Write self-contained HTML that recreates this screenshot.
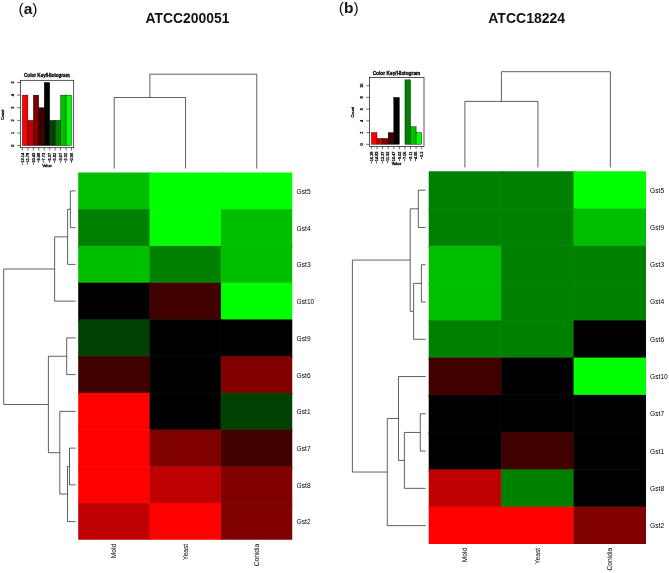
<!DOCTYPE html>
<html lang="en"><head><meta charset="utf-8"><title>Heatmaps</title>
<style>html,body{margin:0;padding:0;background:#fff}svg{display:block}</style></head>
<body>
<svg width="669" height="573" viewBox="0 0 669 573">
<rect width="669" height="573" fill="#ffffff"/>
<text x="18.5" y="14.1" font-size="15.5" font-family="Liberation Sans, Arial, Helvetica, sans-serif" fill="#111">(<tspan font-weight="bold">a</tspan>)</text>
<text x="338.8" y="12.9" font-size="15.5" font-family="Liberation Sans, Arial, Helvetica, sans-serif" fill="#111">(<tspan font-weight="bold">b</tspan>)</text>
<text x="187.5" y="23.3" text-anchor="middle" font-size="13.9" font-weight="bold" font-family="Liberation Sans, Arial, Helvetica, sans-serif" fill="#111">ATCC200051</text>
<text x="526.7" y="23.45" text-anchor="middle" font-size="14.0" font-weight="bold" font-family="Liberation Sans, Arial, Helvetica, sans-serif" fill="#111">ATCC18224</text>
<clipPath id="ca"><rect x="78.20" y="172.45" width="214.05" height="367.40"/></clipPath>
<g clip-path="url(#ca)">
<rect x="76.20" y="170.45" width="75.35" height="40.74" fill="#00bf00"/>
<rect x="149.55" y="170.45" width="73.35" height="40.74" fill="#00ff00"/>
<rect x="220.90" y="170.45" width="73.35" height="40.74" fill="#00ff00"/>
<rect x="76.20" y="209.19" width="75.35" height="38.74" fill="#008000"/>
<rect x="149.55" y="209.19" width="73.35" height="38.74" fill="#00ff00"/>
<rect x="220.90" y="209.19" width="73.35" height="38.74" fill="#00bf00"/>
<rect x="76.20" y="245.93" width="75.35" height="38.74" fill="#00bf00"/>
<rect x="149.55" y="245.93" width="73.35" height="38.74" fill="#008000"/>
<rect x="220.90" y="245.93" width="73.35" height="38.74" fill="#00bf00"/>
<rect x="76.20" y="282.67" width="75.35" height="38.74" fill="#000000"/>
<rect x="149.55" y="282.67" width="73.35" height="38.74" fill="#400000"/>
<rect x="220.90" y="282.67" width="73.35" height="38.74" fill="#00ff00"/>
<rect x="76.20" y="319.41" width="75.35" height="38.74" fill="#004000"/>
<rect x="149.55" y="319.41" width="73.35" height="38.74" fill="#000000"/>
<rect x="220.90" y="319.41" width="73.35" height="38.74" fill="#000000"/>
<rect x="76.20" y="356.15" width="75.35" height="38.74" fill="#400000"/>
<rect x="149.55" y="356.15" width="73.35" height="38.74" fill="#000000"/>
<rect x="220.90" y="356.15" width="73.35" height="38.74" fill="#800000"/>
<rect x="76.20" y="392.89" width="75.35" height="38.74" fill="#ff0000"/>
<rect x="149.55" y="392.89" width="73.35" height="38.74" fill="#000000"/>
<rect x="220.90" y="392.89" width="73.35" height="38.74" fill="#004000"/>
<rect x="76.20" y="429.63" width="75.35" height="38.74" fill="#ff0000"/>
<rect x="149.55" y="429.63" width="73.35" height="38.74" fill="#800000"/>
<rect x="220.90" y="429.63" width="73.35" height="38.74" fill="#400000"/>
<rect x="76.20" y="466.37" width="75.35" height="38.74" fill="#ff0000"/>
<rect x="149.55" y="466.37" width="73.35" height="38.74" fill="#bf0000"/>
<rect x="220.90" y="466.37" width="73.35" height="38.74" fill="#800000"/>
<rect x="76.20" y="503.11" width="75.35" height="38.74" fill="#bf0000"/>
<rect x="149.55" y="503.11" width="73.35" height="38.74" fill="#ff0000"/>
<rect x="220.90" y="503.11" width="73.35" height="38.74" fill="#800000"/>
<line x1="149.55" y1="172.45" x2="149.55" y2="539.85" stroke="#fff" stroke-opacity="0.06" stroke-width="0.8"/>
<line x1="220.90" y1="172.45" x2="220.90" y2="539.85" stroke="#fff" stroke-opacity="0.06" stroke-width="0.8"/>
<line x1="78.20" y1="209.19" x2="292.25" y2="209.19" stroke="#fff" stroke-opacity="0.06" stroke-width="0.8"/>
<line x1="78.20" y1="245.93" x2="292.25" y2="245.93" stroke="#fff" stroke-opacity="0.06" stroke-width="0.8"/>
<line x1="78.20" y1="282.67" x2="292.25" y2="282.67" stroke="#fff" stroke-opacity="0.06" stroke-width="0.8"/>
<line x1="78.20" y1="319.41" x2="292.25" y2="319.41" stroke="#fff" stroke-opacity="0.06" stroke-width="0.8"/>
<line x1="78.20" y1="356.15" x2="292.25" y2="356.15" stroke="#fff" stroke-opacity="0.06" stroke-width="0.8"/>
<line x1="78.20" y1="392.89" x2="292.25" y2="392.89" stroke="#fff" stroke-opacity="0.06" stroke-width="0.8"/>
<line x1="78.20" y1="429.63" x2="292.25" y2="429.63" stroke="#fff" stroke-opacity="0.06" stroke-width="0.8"/>
<line x1="78.20" y1="466.37" x2="292.25" y2="466.37" stroke="#fff" stroke-opacity="0.06" stroke-width="0.8"/>
<line x1="78.20" y1="503.11" x2="292.25" y2="503.11" stroke="#fff" stroke-opacity="0.06" stroke-width="0.8"/>
</g>
<text x="296.60" y="193.81" font-size="6.65" font-family="Liberation Sans, Arial, Helvetica, sans-serif" fill="#000">Gst5</text>
<text x="296.60" y="230.55" font-size="6.65" font-family="Liberation Sans, Arial, Helvetica, sans-serif" fill="#000">Gst4</text>
<text x="296.60" y="267.29" font-size="6.65" font-family="Liberation Sans, Arial, Helvetica, sans-serif" fill="#000">Gst3</text>
<text x="296.60" y="304.03" font-size="6.65" font-family="Liberation Sans, Arial, Helvetica, sans-serif" fill="#000">Gst10</text>
<text x="296.60" y="340.77" font-size="6.65" font-family="Liberation Sans, Arial, Helvetica, sans-serif" fill="#000">Gst9</text>
<text x="296.60" y="377.51" font-size="6.65" font-family="Liberation Sans, Arial, Helvetica, sans-serif" fill="#000">Gst6</text>
<text x="296.60" y="414.25" font-size="6.65" font-family="Liberation Sans, Arial, Helvetica, sans-serif" fill="#000">Gst1</text>
<text x="296.60" y="450.99" font-size="6.65" font-family="Liberation Sans, Arial, Helvetica, sans-serif" fill="#000">Gst7</text>
<text x="296.60" y="487.73" font-size="6.65" font-family="Liberation Sans, Arial, Helvetica, sans-serif" fill="#000">Gst8</text>
<text x="296.60" y="524.47" font-size="6.65" font-family="Liberation Sans, Arial, Helvetica, sans-serif" fill="#000">Gst2</text>
<text transform="translate(116.27,543.80) rotate(-90)" text-anchor="end" font-size="6.65" font-family="Liberation Sans, Arial, Helvetica, sans-serif" fill="#000">Mold</text>
<text transform="translate(187.62,543.80) rotate(-90)" text-anchor="end" font-size="6.65" font-family="Liberation Sans, Arial, Helvetica, sans-serif" fill="#000">Yeast</text>
<text transform="translate(258.97,543.80) rotate(-90)" text-anchor="end" font-size="6.65" font-family="Liberation Sans, Arial, Helvetica, sans-serif" fill="#000">Conidia</text>
<polyline points="114.22,168.60 114.22,97.50 185.57,97.50 185.57,168.60" fill="none" stroke="#1c1c1c" stroke-width="0.7" stroke-linejoin="miter"/>
<polyline points="149.85,97.50 149.85,74.20 256.77,74.20 256.77,168.60" fill="none" stroke="#1c1c1c" stroke-width="0.7" stroke-linejoin="miter"/>
<polyline points="75.60,190.92 70.40,190.92 70.40,227.66 75.60,227.66" fill="none" stroke="#1c1c1c" stroke-width="0.7" stroke-linejoin="miter"/>
<polyline points="70.40,209.29 67.60,209.29 67.60,264.40 75.60,264.40" fill="none" stroke="#1c1c1c" stroke-width="0.7" stroke-linejoin="miter"/>
<polyline points="67.60,236.85 54.60,236.85 54.60,301.14 75.60,301.14" fill="none" stroke="#1c1c1c" stroke-width="0.7" stroke-linejoin="miter"/>
<polyline points="75.60,337.88 66.70,337.88 66.70,374.62 75.60,374.62" fill="none" stroke="#1c1c1c" stroke-width="0.7" stroke-linejoin="miter"/>
<polyline points="75.60,448.10 69.50,448.10 69.50,484.84 75.60,484.84" fill="none" stroke="#1c1c1c" stroke-width="0.7" stroke-linejoin="miter"/>
<polyline points="69.50,466.47 67.50,466.47 67.50,521.58 75.60,521.58" fill="none" stroke="#1c1c1c" stroke-width="0.7" stroke-linejoin="miter"/>
<polyline points="75.60,411.36 59.80,411.36 59.80,494.03 67.50,494.03" fill="none" stroke="#1c1c1c" stroke-width="0.7" stroke-linejoin="miter"/>
<polyline points="66.70,356.25 48.40,356.25 48.40,452.69 59.80,452.69" fill="none" stroke="#1c1c1c" stroke-width="0.7" stroke-linejoin="miter"/>
<polyline points="54.60,268.99 3.70,268.99 3.70,404.47 48.40,404.47" fill="none" stroke="#1c1c1c" stroke-width="0.7" stroke-linejoin="miter"/>
<rect x="22.40" y="95.12" width="5.46" height="50.48" fill="#ff0000" stroke="#000" stroke-width="0.4"/>
<rect x="27.86" y="120.36" width="5.46" height="25.24" fill="#bf0000" stroke="#000" stroke-width="0.4"/>
<rect x="33.32" y="95.12" width="5.46" height="50.48" fill="#800000" stroke="#000" stroke-width="0.4"/>
<rect x="38.78" y="107.74" width="5.46" height="37.86" fill="#400000" stroke="#000" stroke-width="0.4"/>
<rect x="44.24" y="82.50" width="5.46" height="63.10" fill="#000000" stroke="#000" stroke-width="0.4"/>
<rect x="49.70" y="120.36" width="5.46" height="25.24" fill="#004000" stroke="#000" stroke-width="0.4"/>
<rect x="55.16" y="120.36" width="5.46" height="25.24" fill="#008000" stroke="#000" stroke-width="0.4"/>
<rect x="60.62" y="95.12" width="5.46" height="50.48" fill="#00bf00" stroke="#000" stroke-width="0.4"/>
<rect x="66.08" y="95.12" width="5.46" height="50.48" fill="#00ff00" stroke="#000" stroke-width="0.4"/>
<rect x="20.50" y="80.30" width="53.20" height="67.40" fill="none" stroke="#111" stroke-width="0.7"/>
<text x="46.90" y="77.40" text-anchor="middle" font-size="4.6" font-weight="bold" font-family="Liberation Sans, Arial, Helvetica, sans-serif" fill="#000" stroke="#000" stroke-width="0.26">Color Key/Histogram</text>
<line x1="17.10" y1="145.60" x2="20.50" y2="145.60" stroke="#111" stroke-width="0.6"/>
<text transform="translate(14.00,145.60) rotate(-90)" text-anchor="middle" font-size="3.9" font-family="Liberation Sans, Arial, Helvetica, sans-serif" fill="#000" stroke="#000" stroke-width="0.26">0</text>
<line x1="17.10" y1="132.98" x2="20.50" y2="132.98" stroke="#111" stroke-width="0.6"/>
<text transform="translate(14.00,132.98) rotate(-90)" text-anchor="middle" font-size="3.9" font-family="Liberation Sans, Arial, Helvetica, sans-serif" fill="#000" stroke="#000" stroke-width="0.26">1</text>
<line x1="17.10" y1="120.36" x2="20.50" y2="120.36" stroke="#111" stroke-width="0.6"/>
<text transform="translate(14.00,120.36) rotate(-90)" text-anchor="middle" font-size="3.9" font-family="Liberation Sans, Arial, Helvetica, sans-serif" fill="#000" stroke="#000" stroke-width="0.26">2</text>
<line x1="17.10" y1="107.74" x2="20.50" y2="107.74" stroke="#111" stroke-width="0.6"/>
<text transform="translate(14.00,107.74) rotate(-90)" text-anchor="middle" font-size="3.9" font-family="Liberation Sans, Arial, Helvetica, sans-serif" fill="#000" stroke="#000" stroke-width="0.26">3</text>
<line x1="17.10" y1="95.12" x2="20.50" y2="95.12" stroke="#111" stroke-width="0.6"/>
<text transform="translate(14.00,95.12) rotate(-90)" text-anchor="middle" font-size="3.9" font-family="Liberation Sans, Arial, Helvetica, sans-serif" fill="#000" stroke="#000" stroke-width="0.26">4</text>
<line x1="17.10" y1="82.50" x2="20.50" y2="82.50" stroke="#111" stroke-width="0.6"/>
<text transform="translate(14.00,82.50) rotate(-90)" text-anchor="middle" font-size="3.9" font-family="Liberation Sans, Arial, Helvetica, sans-serif" fill="#000" stroke="#000" stroke-width="0.26">5</text>
<line x1="22.40" y1="147.70" x2="22.40" y2="150.50" stroke="#111" stroke-width="0.6"/>
<text transform="translate(23.65,152.80) rotate(-90)" text-anchor="end" font-size="3.9" font-family="Liberation Sans, Arial, Helvetica, sans-serif" fill="#000" stroke="#000" stroke-width="0.26">−13.14</text>
<line x1="27.86" y1="147.70" x2="27.86" y2="150.50" stroke="#111" stroke-width="0.6"/>
<text transform="translate(29.11,152.80) rotate(-90)" text-anchor="end" font-size="3.9" font-family="Liberation Sans, Arial, Helvetica, sans-serif" fill="#000" stroke="#000" stroke-width="0.26">−11.78</text>
<line x1="33.32" y1="147.70" x2="33.32" y2="150.50" stroke="#111" stroke-width="0.6"/>
<text transform="translate(34.57,152.80) rotate(-90)" text-anchor="end" font-size="3.9" font-family="Liberation Sans, Arial, Helvetica, sans-serif" fill="#000" stroke="#000" stroke-width="0.26">−10.43</text>
<line x1="38.78" y1="147.70" x2="38.78" y2="150.50" stroke="#111" stroke-width="0.6"/>
<text transform="translate(40.03,152.80) rotate(-90)" text-anchor="end" font-size="3.9" font-family="Liberation Sans, Arial, Helvetica, sans-serif" fill="#000" stroke="#000" stroke-width="0.26">−9.08</text>
<line x1="44.24" y1="147.70" x2="44.24" y2="150.50" stroke="#111" stroke-width="0.6"/>
<text transform="translate(45.49,152.80) rotate(-90)" text-anchor="end" font-size="3.9" font-family="Liberation Sans, Arial, Helvetica, sans-serif" fill="#000" stroke="#000" stroke-width="0.26">−7.73</text>
<line x1="49.70" y1="147.70" x2="49.70" y2="150.50" stroke="#111" stroke-width="0.6"/>
<text transform="translate(50.95,152.80) rotate(-90)" text-anchor="end" font-size="3.9" font-family="Liberation Sans, Arial, Helvetica, sans-serif" fill="#000" stroke="#000" stroke-width="0.26">−6.37</text>
<line x1="55.16" y1="147.70" x2="55.16" y2="150.50" stroke="#111" stroke-width="0.6"/>
<text transform="translate(56.41,152.80) rotate(-90)" text-anchor="end" font-size="3.9" font-family="Liberation Sans, Arial, Helvetica, sans-serif" fill="#000" stroke="#000" stroke-width="0.26">−5.02</text>
<line x1="60.62" y1="147.70" x2="60.62" y2="150.50" stroke="#111" stroke-width="0.6"/>
<text transform="translate(61.87,152.80) rotate(-90)" text-anchor="end" font-size="3.9" font-family="Liberation Sans, Arial, Helvetica, sans-serif" fill="#000" stroke="#000" stroke-width="0.26">−3.67</text>
<line x1="66.08" y1="147.70" x2="66.08" y2="150.50" stroke="#111" stroke-width="0.6"/>
<text transform="translate(67.33,152.80) rotate(-90)" text-anchor="end" font-size="3.9" font-family="Liberation Sans, Arial, Helvetica, sans-serif" fill="#000" stroke="#000" stroke-width="0.26">−2.32</text>
<line x1="71.54" y1="147.70" x2="71.54" y2="150.50" stroke="#111" stroke-width="0.6"/>
<text transform="translate(72.79,152.80) rotate(-90)" text-anchor="end" font-size="3.9" font-family="Liberation Sans, Arial, Helvetica, sans-serif" fill="#000" stroke="#000" stroke-width="0.26">−0.96</text>
<text x="46.97" y="166.60" text-anchor="middle" font-size="3.9" font-family="Liberation Sans, Arial, Helvetica, sans-serif" fill="#000" stroke="#000" stroke-width="0.26">Value</text>
<text transform="translate(4.40,114.90) rotate(-90)" text-anchor="middle" font-size="3.9" font-family="Liberation Sans, Arial, Helvetica, sans-serif" fill="#000" stroke="#000" stroke-width="0.26">Count</text>
<clipPath id="cb"><rect x="428.70" y="171.25" width="217.29" height="372.70"/></clipPath>
<g clip-path="url(#cb)">
<rect x="426.70" y="169.25" width="76.43" height="41.27" fill="#008000"/>
<rect x="501.13" y="169.25" width="74.43" height="41.27" fill="#008000"/>
<rect x="573.56" y="169.25" width="74.43" height="41.27" fill="#00ff00"/>
<rect x="426.70" y="208.52" width="76.43" height="39.27" fill="#008000"/>
<rect x="501.13" y="208.52" width="74.43" height="39.27" fill="#008000"/>
<rect x="573.56" y="208.52" width="74.43" height="39.27" fill="#00bf00"/>
<rect x="426.70" y="245.79" width="76.43" height="39.27" fill="#00bf00"/>
<rect x="501.13" y="245.79" width="74.43" height="39.27" fill="#008000"/>
<rect x="573.56" y="245.79" width="74.43" height="39.27" fill="#008000"/>
<rect x="426.70" y="283.06" width="76.43" height="39.27" fill="#00bf00"/>
<rect x="501.13" y="283.06" width="74.43" height="39.27" fill="#008000"/>
<rect x="573.56" y="283.06" width="74.43" height="39.27" fill="#008000"/>
<rect x="426.70" y="320.33" width="76.43" height="39.27" fill="#008000"/>
<rect x="501.13" y="320.33" width="74.43" height="39.27" fill="#008000"/>
<rect x="573.56" y="320.33" width="74.43" height="39.27" fill="#000000"/>
<rect x="426.70" y="357.60" width="76.43" height="39.27" fill="#400000"/>
<rect x="501.13" y="357.60" width="74.43" height="39.27" fill="#000000"/>
<rect x="573.56" y="357.60" width="74.43" height="39.27" fill="#00ff00"/>
<rect x="426.70" y="394.87" width="76.43" height="39.27" fill="#000000"/>
<rect x="501.13" y="394.87" width="74.43" height="39.27" fill="#000000"/>
<rect x="573.56" y="394.87" width="74.43" height="39.27" fill="#000000"/>
<rect x="426.70" y="432.14" width="76.43" height="39.27" fill="#000000"/>
<rect x="501.13" y="432.14" width="74.43" height="39.27" fill="#400000"/>
<rect x="573.56" y="432.14" width="74.43" height="39.27" fill="#000000"/>
<rect x="426.70" y="469.41" width="76.43" height="39.27" fill="#bf0000"/>
<rect x="501.13" y="469.41" width="74.43" height="39.27" fill="#008000"/>
<rect x="573.56" y="469.41" width="74.43" height="39.27" fill="#000000"/>
<rect x="426.70" y="506.68" width="76.43" height="39.27" fill="#ff0000"/>
<rect x="501.13" y="506.68" width="74.43" height="39.27" fill="#ff0000"/>
<rect x="573.56" y="506.68" width="74.43" height="39.27" fill="#800000"/>
<line x1="501.13" y1="171.25" x2="501.13" y2="543.95" stroke="#fff" stroke-opacity="0.06" stroke-width="0.8"/>
<line x1="573.56" y1="171.25" x2="573.56" y2="543.95" stroke="#fff" stroke-opacity="0.06" stroke-width="0.8"/>
<line x1="428.70" y1="208.52" x2="645.99" y2="208.52" stroke="#fff" stroke-opacity="0.06" stroke-width="0.8"/>
<line x1="428.70" y1="245.79" x2="645.99" y2="245.79" stroke="#fff" stroke-opacity="0.06" stroke-width="0.8"/>
<line x1="428.70" y1="283.06" x2="645.99" y2="283.06" stroke="#fff" stroke-opacity="0.06" stroke-width="0.8"/>
<line x1="428.70" y1="320.33" x2="645.99" y2="320.33" stroke="#fff" stroke-opacity="0.06" stroke-width="0.8"/>
<line x1="428.70" y1="357.60" x2="645.99" y2="357.60" stroke="#fff" stroke-opacity="0.06" stroke-width="0.8"/>
<line x1="428.70" y1="394.87" x2="645.99" y2="394.87" stroke="#fff" stroke-opacity="0.06" stroke-width="0.8"/>
<line x1="428.70" y1="432.14" x2="645.99" y2="432.14" stroke="#fff" stroke-opacity="0.06" stroke-width="0.8"/>
<line x1="428.70" y1="469.41" x2="645.99" y2="469.41" stroke="#fff" stroke-opacity="0.06" stroke-width="0.8"/>
<line x1="428.70" y1="506.68" x2="645.99" y2="506.68" stroke="#fff" stroke-opacity="0.06" stroke-width="0.8"/>
</g>
<text x="650.10" y="192.68" font-size="6.65" font-family="Liberation Sans, Arial, Helvetica, sans-serif" fill="#000">Gst5</text>
<text x="650.10" y="229.95" font-size="6.65" font-family="Liberation Sans, Arial, Helvetica, sans-serif" fill="#000">Gst9</text>
<text x="650.10" y="267.22" font-size="6.65" font-family="Liberation Sans, Arial, Helvetica, sans-serif" fill="#000">Gst3</text>
<text x="650.10" y="304.49" font-size="6.65" font-family="Liberation Sans, Arial, Helvetica, sans-serif" fill="#000">Gst4</text>
<text x="650.10" y="341.76" font-size="6.65" font-family="Liberation Sans, Arial, Helvetica, sans-serif" fill="#000">Gst6</text>
<text x="650.10" y="379.03" font-size="6.65" font-family="Liberation Sans, Arial, Helvetica, sans-serif" fill="#000">Gst10</text>
<text x="650.10" y="416.30" font-size="6.65" font-family="Liberation Sans, Arial, Helvetica, sans-serif" fill="#000">Gst7</text>
<text x="650.10" y="453.57" font-size="6.65" font-family="Liberation Sans, Arial, Helvetica, sans-serif" fill="#000">Gst1</text>
<text x="650.10" y="490.84" font-size="6.65" font-family="Liberation Sans, Arial, Helvetica, sans-serif" fill="#000">Gst8</text>
<text x="650.10" y="528.11" font-size="6.65" font-family="Liberation Sans, Arial, Helvetica, sans-serif" fill="#000">Gst2</text>
<text transform="translate(467.31,547.90) rotate(-90)" text-anchor="end" font-size="6.65" font-family="Liberation Sans, Arial, Helvetica, sans-serif" fill="#000">Mold</text>
<text transform="translate(539.74,547.90) rotate(-90)" text-anchor="end" font-size="6.65" font-family="Liberation Sans, Arial, Helvetica, sans-serif" fill="#000">Yeast</text>
<text transform="translate(612.17,547.90) rotate(-90)" text-anchor="end" font-size="6.65" font-family="Liberation Sans, Arial, Helvetica, sans-serif" fill="#000">Conidia</text>
<polyline points="464.91,167.50 464.91,101.40 537.95,101.40 537.95,167.50" fill="none" stroke="#1c1c1c" stroke-width="0.7" stroke-linejoin="miter"/>
<polyline points="501.43,101.40 501.43,71.70 610.38,71.70 610.38,167.50" fill="none" stroke="#1c1c1c" stroke-width="0.7" stroke-linejoin="miter"/>
<polyline points="425.60,190.19 418.30,190.19 418.30,227.46 425.60,227.46" fill="none" stroke="#1c1c1c" stroke-width="0.7" stroke-linejoin="miter"/>
<polyline points="425.60,264.73 421.40,264.73 421.40,302.00 425.60,302.00" fill="none" stroke="#1c1c1c" stroke-width="0.7" stroke-linejoin="miter"/>
<polyline points="421.40,283.36 413.60,283.36 413.60,339.27 425.60,339.27" fill="none" stroke="#1c1c1c" stroke-width="0.7" stroke-linejoin="miter"/>
<polyline points="418.30,208.82 410.20,208.82 410.20,311.31 413.60,311.31" fill="none" stroke="#1c1c1c" stroke-width="0.7" stroke-linejoin="miter"/>
<polyline points="425.60,413.81 420.30,413.81 420.30,451.08 425.60,451.08" fill="none" stroke="#1c1c1c" stroke-width="0.7" stroke-linejoin="miter"/>
<polyline points="420.30,432.44 404.40,432.44 404.40,488.35 425.60,488.35" fill="none" stroke="#1c1c1c" stroke-width="0.7" stroke-linejoin="miter"/>
<polyline points="425.60,376.54 398.50,376.54 398.50,460.39 404.40,460.39" fill="none" stroke="#1c1c1c" stroke-width="0.7" stroke-linejoin="miter"/>
<polyline points="398.50,418.46 387.30,418.46 387.30,525.62 425.60,525.62" fill="none" stroke="#1c1c1c" stroke-width="0.7" stroke-linejoin="miter"/>
<polyline points="410.20,260.07 352.40,260.07 352.40,472.04 387.30,472.04" fill="none" stroke="#1c1c1c" stroke-width="0.7" stroke-linejoin="miter"/>
<rect x="371.40" y="132.58" width="5.59" height="11.72" fill="#ff0000" stroke="#000" stroke-width="0.4"/>
<rect x="376.99" y="138.44" width="5.59" height="5.86" fill="#bf0000" stroke="#000" stroke-width="0.4"/>
<rect x="382.58" y="138.44" width="5.59" height="5.86" fill="#800000" stroke="#000" stroke-width="0.4"/>
<rect x="388.17" y="132.58" width="5.59" height="11.72" fill="#400000" stroke="#000" stroke-width="0.4"/>
<rect x="393.76" y="97.42" width="5.59" height="46.88" fill="#000000" stroke="#000" stroke-width="0.4"/>
<rect x="404.94" y="79.84" width="5.59" height="64.46" fill="#008000" stroke="#000" stroke-width="0.4"/>
<rect x="410.53" y="126.72" width="5.59" height="17.58" fill="#00bf00" stroke="#000" stroke-width="0.4"/>
<rect x="416.12" y="132.58" width="5.59" height="11.72" fill="#00ff00" stroke="#000" stroke-width="0.4"/>
<rect x="369.60" y="77.50" width="54.40" height="69.00" fill="none" stroke="#111" stroke-width="0.7"/>
<text x="396.50" y="75.00" text-anchor="middle" font-size="4.8" font-weight="bold" font-family="Liberation Sans, Arial, Helvetica, sans-serif" fill="#000" stroke="#000" stroke-width="0.26">Color Key/Histogram</text>
<line x1="366.20" y1="144.30" x2="369.60" y2="144.30" stroke="#111" stroke-width="0.6"/>
<text transform="translate(362.80,144.30) rotate(-90)" text-anchor="middle" font-size="3.9" font-family="Liberation Sans, Arial, Helvetica, sans-serif" fill="#000" stroke="#000" stroke-width="0.26">0</text>
<line x1="366.20" y1="132.58" x2="369.60" y2="132.58" stroke="#111" stroke-width="0.6"/>
<text transform="translate(362.80,132.58) rotate(-90)" text-anchor="middle" font-size="3.9" font-family="Liberation Sans, Arial, Helvetica, sans-serif" fill="#000" stroke="#000" stroke-width="0.26">2</text>
<line x1="366.20" y1="120.86" x2="369.60" y2="120.86" stroke="#111" stroke-width="0.6"/>
<text transform="translate(362.80,120.86) rotate(-90)" text-anchor="middle" font-size="3.9" font-family="Liberation Sans, Arial, Helvetica, sans-serif" fill="#000" stroke="#000" stroke-width="0.26">4</text>
<line x1="366.20" y1="109.14" x2="369.60" y2="109.14" stroke="#111" stroke-width="0.6"/>
<text transform="translate(362.80,109.14) rotate(-90)" text-anchor="middle" font-size="3.9" font-family="Liberation Sans, Arial, Helvetica, sans-serif" fill="#000" stroke="#000" stroke-width="0.26">6</text>
<line x1="366.20" y1="97.42" x2="369.60" y2="97.42" stroke="#111" stroke-width="0.6"/>
<text transform="translate(362.80,97.42) rotate(-90)" text-anchor="middle" font-size="3.9" font-family="Liberation Sans, Arial, Helvetica, sans-serif" fill="#000" stroke="#000" stroke-width="0.26">8</text>
<line x1="366.20" y1="85.70" x2="369.60" y2="85.70" stroke="#111" stroke-width="0.6"/>
<text transform="translate(362.80,85.70) rotate(-90)" text-anchor="middle" font-size="3.9" font-family="Liberation Sans, Arial, Helvetica, sans-serif" fill="#000" stroke="#000" stroke-width="0.26">10</text>
<line x1="371.40" y1="146.50" x2="371.40" y2="149.30" stroke="#111" stroke-width="0.6"/>
<text transform="translate(372.65,151.50) rotate(-90)" text-anchor="end" font-size="3.9" font-family="Liberation Sans, Arial, Helvetica, sans-serif" fill="#000" stroke="#000" stroke-width="0.26">−16.28</text>
<line x1="376.99" y1="146.50" x2="376.99" y2="149.30" stroke="#111" stroke-width="0.6"/>
<text transform="translate(378.24,151.50) rotate(-90)" text-anchor="end" font-size="3.9" font-family="Liberation Sans, Arial, Helvetica, sans-serif" fill="#000" stroke="#000" stroke-width="0.26">−14.83</text>
<line x1="382.58" y1="146.50" x2="382.58" y2="149.30" stroke="#111" stroke-width="0.6"/>
<text transform="translate(383.83,151.50) rotate(-90)" text-anchor="end" font-size="3.9" font-family="Liberation Sans, Arial, Helvetica, sans-serif" fill="#000" stroke="#000" stroke-width="0.26">−13.37</text>
<line x1="388.17" y1="146.50" x2="388.17" y2="149.30" stroke="#111" stroke-width="0.6"/>
<text transform="translate(389.42,151.50) rotate(-90)" text-anchor="end" font-size="3.9" font-family="Liberation Sans, Arial, Helvetica, sans-serif" fill="#000" stroke="#000" stroke-width="0.26">−11.92</text>
<line x1="393.76" y1="146.50" x2="393.76" y2="149.30" stroke="#111" stroke-width="0.6"/>
<text transform="translate(395.01,151.50) rotate(-90)" text-anchor="end" font-size="3.9" font-family="Liberation Sans, Arial, Helvetica, sans-serif" fill="#000" stroke="#000" stroke-width="0.26">−10.47</text>
<line x1="399.35" y1="146.50" x2="399.35" y2="149.30" stroke="#111" stroke-width="0.6"/>
<text transform="translate(400.60,151.50) rotate(-90)" text-anchor="end" font-size="3.9" font-family="Liberation Sans, Arial, Helvetica, sans-serif" fill="#000" stroke="#000" stroke-width="0.26">−9.02</text>
<line x1="404.94" y1="146.50" x2="404.94" y2="149.30" stroke="#111" stroke-width="0.6"/>
<text transform="translate(406.19,151.50) rotate(-90)" text-anchor="end" font-size="3.9" font-family="Liberation Sans, Arial, Helvetica, sans-serif" fill="#000" stroke="#000" stroke-width="0.26">−7.56</text>
<line x1="410.53" y1="146.50" x2="410.53" y2="149.30" stroke="#111" stroke-width="0.6"/>
<text transform="translate(411.78,151.50) rotate(-90)" text-anchor="end" font-size="3.9" font-family="Liberation Sans, Arial, Helvetica, sans-serif" fill="#000" stroke="#000" stroke-width="0.26">−6.11</text>
<line x1="416.12" y1="146.50" x2="416.12" y2="149.30" stroke="#111" stroke-width="0.6"/>
<text transform="translate(417.37,151.50) rotate(-90)" text-anchor="end" font-size="3.9" font-family="Liberation Sans, Arial, Helvetica, sans-serif" fill="#000" stroke="#000" stroke-width="0.26">−4.66</text>
<line x1="421.71" y1="146.50" x2="421.71" y2="149.30" stroke="#111" stroke-width="0.6"/>
<text transform="translate(422.96,151.50) rotate(-90)" text-anchor="end" font-size="3.9" font-family="Liberation Sans, Arial, Helvetica, sans-serif" fill="#000" stroke="#000" stroke-width="0.26">−3.2</text>
<text x="396.55" y="165.40" text-anchor="middle" font-size="3.9" font-family="Liberation Sans, Arial, Helvetica, sans-serif" fill="#000" stroke="#000" stroke-width="0.26">Value</text>
<text transform="translate(353.90,112.30) rotate(-90)" text-anchor="middle" font-size="3.9" font-family="Liberation Sans, Arial, Helvetica, sans-serif" fill="#000" stroke="#000" stroke-width="0.26">Count</text>
</svg>
</body></html>
